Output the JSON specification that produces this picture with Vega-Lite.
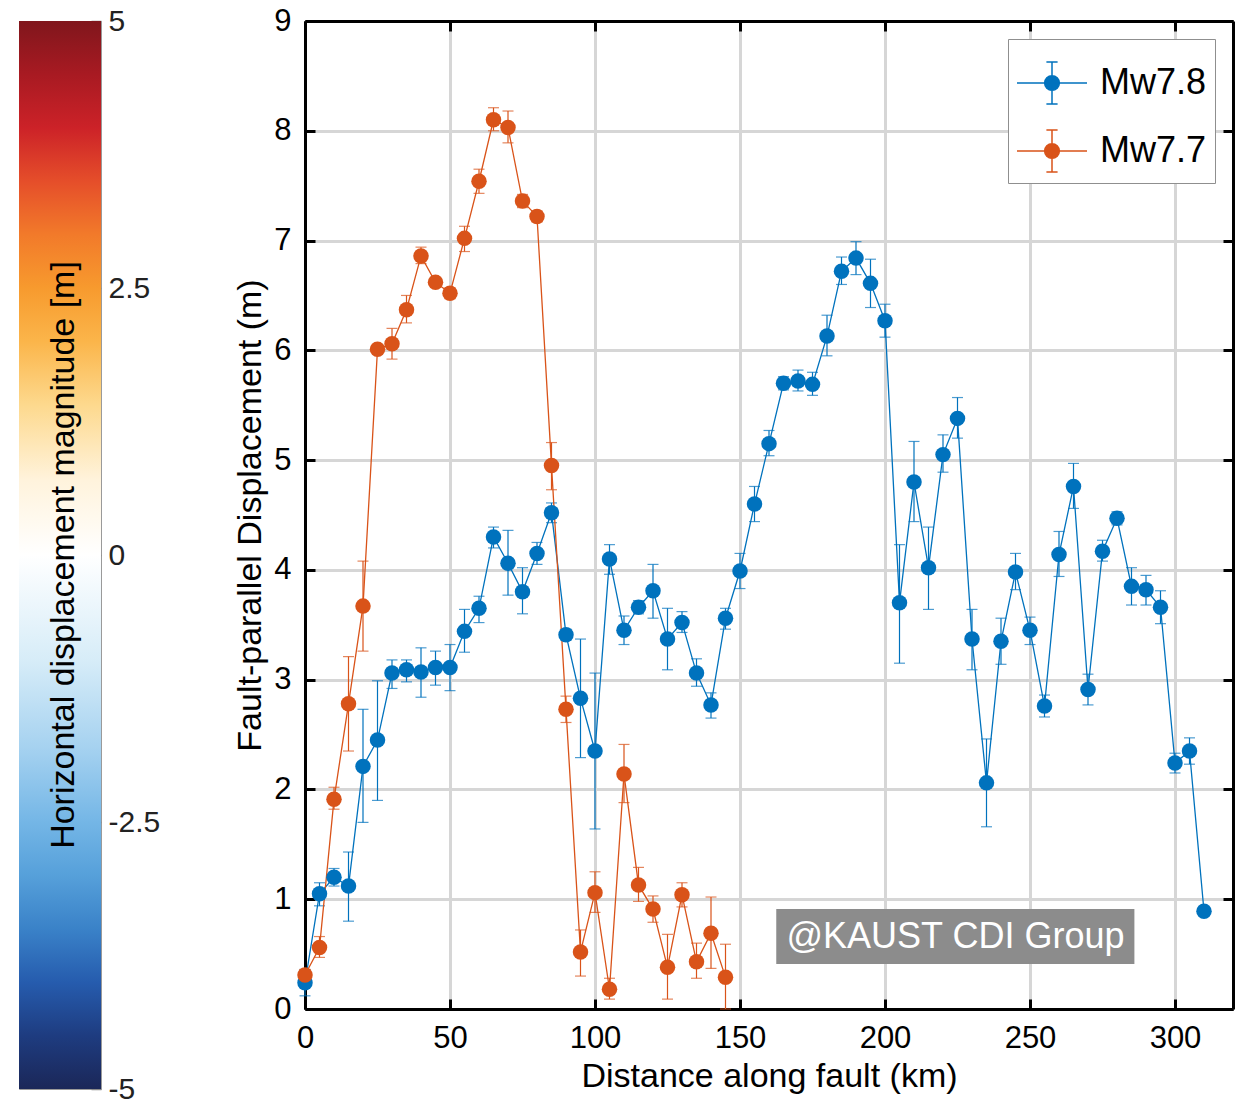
{
  "$schema": "https://vega.github.io/schema/vega-lite/v6.json",
  "padding": {"left": 18, "top": 5, "right": 0, "bottom": 0},
  "background": "white",
  "config": {"font": "Liberation Sans", "axis": {"labelColor": "black", "titleColor": "black", "titleFontWeight": "normal"}, "legend": {"symbolOpacity": 1}},
  "resolve": {"legend": {"color": "independent"}, "scale": {"color": "independent"}},
  "datasets": {
    "slip": [
      {"s": "Mw7.8", "x": 0, "y": 0.24, "lo": 0.12, "hi": 0.36},
      {"s": "Mw7.8", "x": 5, "y": 1.05, "lo": 0.94, "hi": 1.15},
      {"s": "Mw7.8", "x": 10, "y": 1.2, "lo": 1.12, "hi": 1.28},
      {"s": "Mw7.8", "x": 15, "y": 1.12, "lo": 0.8, "hi": 1.43},
      {"s": "Mw7.8", "x": 20, "y": 2.21, "lo": 1.7, "hi": 2.73},
      {"s": "Mw7.8", "x": 25, "y": 2.45, "lo": 1.9, "hi": 2.99},
      {"s": "Mw7.8", "x": 30, "y": 3.06, "lo": 2.92, "hi": 3.18},
      {"s": "Mw7.8", "x": 35, "y": 3.09, "lo": 2.98, "hi": 3.18},
      {"s": "Mw7.8", "x": 40, "y": 3.07, "lo": 2.84, "hi": 3.29},
      {"s": "Mw7.8", "x": 45, "y": 3.11, "lo": 2.95, "hi": 3.26},
      {"s": "Mw7.8", "x": 50, "y": 3.11, "lo": 2.9, "hi": 3.32},
      {"s": "Mw7.8", "x": 55, "y": 3.44, "lo": 3.25, "hi": 3.64},
      {"s": "Mw7.8", "x": 60, "y": 3.65, "lo": 3.52, "hi": 3.76},
      {"s": "Mw7.8", "x": 65, "y": 4.3, "lo": 4.2, "hi": 4.39},
      {"s": "Mw7.8", "x": 70, "y": 4.06, "lo": 3.77, "hi": 4.36},
      {"s": "Mw7.8", "x": 75, "y": 3.8, "lo": 3.6, "hi": 4.02},
      {"s": "Mw7.8", "x": 80, "y": 4.15, "lo": 4.05, "hi": 4.25},
      {"s": "Mw7.8", "x": 85, "y": 4.52, "lo": 4.43, "hi": 4.61},
      {"s": "Mw7.8", "x": 90, "y": 3.41, "lo": 3.36, "hi": 3.46},
      {"s": "Mw7.8", "x": 95, "y": 2.83, "lo": 2.29, "hi": 3.37},
      {"s": "Mw7.8", "x": 100, "y": 2.35, "lo": 1.64, "hi": 3.06},
      {"s": "Mw7.8", "x": 105, "y": 4.1, "lo": 3.96, "hi": 4.23},
      {"s": "Mw7.8", "x": 110, "y": 3.45, "lo": 3.32, "hi": 3.58},
      {"s": "Mw7.8", "x": 115, "y": 3.66, "lo": 3.6, "hi": 3.72},
      {"s": "Mw7.8", "x": 120, "y": 3.81, "lo": 3.56, "hi": 4.05},
      {"s": "Mw7.8", "x": 125, "y": 3.37, "lo": 3.09, "hi": 3.65},
      {"s": "Mw7.8", "x": 130, "y": 3.52, "lo": 3.43, "hi": 3.62},
      {"s": "Mw7.8", "x": 135, "y": 3.06, "lo": 2.94, "hi": 3.19},
      {"s": "Mw7.8", "x": 140, "y": 2.77, "lo": 2.65, "hi": 2.88},
      {"s": "Mw7.8", "x": 145, "y": 3.56, "lo": 3.46, "hi": 3.65},
      {"s": "Mw7.8", "x": 150, "y": 3.99, "lo": 3.83, "hi": 4.15},
      {"s": "Mw7.8", "x": 155, "y": 4.6, "lo": 4.44, "hi": 4.76},
      {"s": "Mw7.8", "x": 160, "y": 5.15, "lo": 5.04, "hi": 5.27},
      {"s": "Mw7.8", "x": 165, "y": 5.7, "lo": 5.64, "hi": 5.76},
      {"s": "Mw7.8", "x": 170, "y": 5.72, "lo": 5.63, "hi": 5.82},
      {"s": "Mw7.8", "x": 175, "y": 5.69, "lo": 5.59, "hi": 5.8},
      {"s": "Mw7.8", "x": 180, "y": 6.13, "lo": 5.95, "hi": 6.32},
      {"s": "Mw7.8", "x": 185, "y": 6.72, "lo": 6.6, "hi": 6.85},
      {"s": "Mw7.8", "x": 190, "y": 6.84, "lo": 6.69, "hi": 6.99},
      {"s": "Mw7.8", "x": 195, "y": 6.61, "lo": 6.39, "hi": 6.83},
      {"s": "Mw7.8", "x": 200, "y": 6.27, "lo": 6.12, "hi": 6.42},
      {"s": "Mw7.8", "x": 205, "y": 3.7, "lo": 3.15, "hi": 4.23},
      {"s": "Mw7.8", "x": 210, "y": 4.8, "lo": 4.44, "hi": 5.17},
      {"s": "Mw7.8", "x": 215, "y": 4.02, "lo": 3.64, "hi": 4.39},
      {"s": "Mw7.8", "x": 220, "y": 5.05, "lo": 4.89, "hi": 5.23},
      {"s": "Mw7.8", "x": 225, "y": 5.38, "lo": 5.2, "hi": 5.57},
      {"s": "Mw7.8", "x": 230, "y": 3.37, "lo": 3.09, "hi": 3.64},
      {"s": "Mw7.8", "x": 235, "y": 2.06, "lo": 1.66, "hi": 2.46},
      {"s": "Mw7.8", "x": 240, "y": 3.35, "lo": 3.14, "hi": 3.56},
      {"s": "Mw7.8", "x": 245, "y": 3.98, "lo": 3.82, "hi": 4.15},
      {"s": "Mw7.8", "x": 250, "y": 3.45, "lo": 3.32, "hi": 3.57},
      {"s": "Mw7.8", "x": 255, "y": 2.76, "lo": 2.66, "hi": 2.86},
      {"s": "Mw7.8", "x": 260, "y": 4.14, "lo": 3.94, "hi": 4.35},
      {"s": "Mw7.8", "x": 265, "y": 4.76, "lo": 4.56, "hi": 4.97},
      {"s": "Mw7.8", "x": 270, "y": 2.91, "lo": 2.77, "hi": 3.05},
      {"s": "Mw7.8", "x": 275, "y": 4.17, "lo": 4.08, "hi": 4.27},
      {"s": "Mw7.8", "x": 280, "y": 4.47, "lo": 4.41, "hi": 4.53},
      {"s": "Mw7.8", "x": 285, "y": 3.85, "lo": 3.68, "hi": 4.02},
      {"s": "Mw7.8", "x": 290, "y": 3.82, "lo": 3.68, "hi": 3.95},
      {"s": "Mw7.8", "x": 295, "y": 3.66, "lo": 3.51, "hi": 3.81},
      {"s": "Mw7.8", "x": 300, "y": 2.24, "lo": 2.15, "hi": 2.33},
      {"s": "Mw7.8", "x": 305, "y": 2.35, "lo": 2.23, "hi": 2.47},
      {"s": "Mw7.8", "x": 310, "y": 0.89, "lo": 0.86, "hi": 0.92},
      {"s": "Mw7.7", "x": 0, "y": 0.31, "lo": 0.26, "hi": 0.36},
      {"s": "Mw7.7", "x": 5, "y": 0.56, "lo": 0.47, "hi": 0.66},
      {"s": "Mw7.7", "x": 10, "y": 1.91, "lo": 1.82, "hi": 2.02},
      {"s": "Mw7.7", "x": 15, "y": 2.78, "lo": 2.35, "hi": 3.21},
      {"s": "Mw7.7", "x": 20, "y": 3.67, "lo": 3.26, "hi": 4.08},
      {"s": "Mw7.7", "x": 25, "y": 6.01, "lo": 5.97, "hi": 6.05},
      {"s": "Mw7.7", "x": 30, "y": 6.06, "lo": 5.92, "hi": 6.2},
      {"s": "Mw7.7", "x": 35, "y": 6.37, "lo": 6.25, "hi": 6.5},
      {"s": "Mw7.7", "x": 40, "y": 6.86, "lo": 6.79, "hi": 6.94},
      {"s": "Mw7.7", "x": 45, "y": 6.62, "lo": 6.58, "hi": 6.66},
      {"s": "Mw7.7", "x": 50, "y": 6.52, "lo": 6.47, "hi": 6.57},
      {"s": "Mw7.7", "x": 55, "y": 7.02, "lo": 6.9, "hi": 7.13},
      {"s": "Mw7.7", "x": 60, "y": 7.54, "lo": 7.43, "hi": 7.65},
      {"s": "Mw7.7", "x": 65, "y": 8.1, "lo": 8.0, "hi": 8.21},
      {"s": "Mw7.7", "x": 70, "y": 8.03, "lo": 7.89, "hi": 8.18},
      {"s": "Mw7.7", "x": 75, "y": 7.36, "lo": 7.3, "hi": 7.42},
      {"s": "Mw7.7", "x": 80, "y": 7.22, "lo": 7.17, "hi": 7.27},
      {"s": "Mw7.7", "x": 85, "y": 4.95, "lo": 4.73, "hi": 5.16},
      {"s": "Mw7.7", "x": 90, "y": 2.73, "lo": 2.61, "hi": 2.85},
      {"s": "Mw7.7", "x": 95, "y": 0.52, "lo": 0.3, "hi": 0.72},
      {"s": "Mw7.7", "x": 100, "y": 1.06, "lo": 0.88, "hi": 1.25},
      {"s": "Mw7.7", "x": 105, "y": 0.18, "lo": 0.09, "hi": 0.28},
      {"s": "Mw7.7", "x": 110, "y": 2.14, "lo": 1.88, "hi": 2.41},
      {"s": "Mw7.7", "x": 115, "y": 1.13, "lo": 0.98, "hi": 1.29},
      {"s": "Mw7.7", "x": 120, "y": 0.91, "lo": 0.79, "hi": 1.03},
      {"s": "Mw7.7", "x": 125, "y": 0.38, "lo": 0.09, "hi": 0.68},
      {"s": "Mw7.7", "x": 130, "y": 1.04, "lo": 0.93, "hi": 1.15},
      {"s": "Mw7.7", "x": 135, "y": 0.43, "lo": 0.28, "hi": 0.6},
      {"s": "Mw7.7", "x": 140, "y": 0.69, "lo": 0.37, "hi": 1.02},
      {"s": "Mw7.7", "x": 145, "y": 0.29, "lo": 0.0, "hi": 0.59}
    ]
  },
  "bounds": "flush",
  "spacing": 204,
  "hconcat": [
    {
      "width": 82,
      "height": 1068,
      "view": {"stroke": "#9a9a9a", "strokeWidth": 1},
      "data": {"values": [{}]},
      "layer": [
        {
          "mark": {
            "type": "rect",
            "color": {
              "gradient": "linear", "x1": 0, "y1": 1, "x2": 0, "y2": 0,
              "stops": [
                {"offset": 0, "color": "#1b2758"},
                {"offset": 0.05, "color": "#1e3c80"},
                {"offset": 0.1, "color": "#265cae"},
                {"offset": 0.15, "color": "#3a82c8"},
                {"offset": 0.2, "color": "#56a0da"},
                {"offset": 0.25, "color": "#74b6e6"},
                {"offset": 0.32, "color": "#a6d2f0"},
                {"offset": 0.4, "color": "#d6ecf8"},
                {"offset": 0.5, "color": "#ffffff"},
                {"offset": 0.57, "color": "#fff3dc"},
                {"offset": 0.64, "color": "#fdd98e"},
                {"offset": 0.7, "color": "#fbb54a"},
                {"offset": 0.75, "color": "#f79a2e"},
                {"offset": 0.8, "color": "#f27a2a"},
                {"offset": 0.85, "color": "#e54e2a"},
                {"offset": 0.9, "color": "#cc2228"},
                {"offset": 0.95, "color": "#a81a22"},
                {"offset": 1, "color": "#80161c"}
              ]
            }
          },
          "encoding": {
            "x": {"datum": 0, "type": "quantitative", "scale": {"domain": [0, 1], "nice": false}, "axis": null},
            "x2": {"datum": 1},
            "y": {
              "datum": -5, "type": "quantitative",
              "scale": {"domain": [-5, 5], "nice": false},
              "axis": {
                "orient": "right", "values": [-5, -2.5, 0, 2.5, 5], "labelExpr": "'' + datum.value",
                "labelFontSize": 30, "labelColor": "#222222", "tickSize": -10, "tickColor": "#8a8a8a", "tickWidth": 1.5,
                "domain": false, "grid": false, "labelPadding": 17, "title": null
              }
            },
            "y2": {"datum": 5}
          }
        },
        {
          "mark": {"type": "text", "angle": 270, "fontSize": 34, "color": "black", "align": "center", "baseline": "middle"},
          "encoding": {
            "x": {"datum": 0.55, "type": "quantitative"},
            "y": {"datum": 0, "type": "quantitative"},
            "text": {"value": "Horizontal displacement magnitude [m]"}
          }
        }
      ]
    },
    {
      "width": 928,
      "height": 988,
      "view": {"stroke": null},
      "data": {"name": "slip"},
      "resolve": {"axis": {"x": "independent", "y": "independent"}},
      "layer": [
        {
          "mark": {"type": "rule", "strokeWidth": 1.2},
          "encoding": {
            "x": {
              "field": "x", "type": "quantitative", "scale": {"domain": [0, 320], "nice": false},
              "axis": {
                "orient": "bottom", "values": [0, 50, 100, 150, 200, 250, 300], "title": "Distance along fault (km)",
                "titleFontSize": 34, "labelFontSize": 31, "grid": true, "gridColor": "#d6d6d6", "gridWidth": 3,
                "domain": true, "domainColor": "black", "domainWidth": 3, "tickColor": "black", "tickWidth": 3,
                "tickSize": -10, "labelPadding": 24, "titlePadding": 6, "labelFlush": false
              }
            },
            "y": {
              "field": "lo", "type": "quantitative", "scale": {"domain": [0, 9], "nice": false},
              "axis": {
                "orient": "left", "values": [0, 1, 2, 3, 4, 5, 6, 7, 8, 9], "title": "Fault-parallel Displacement (m)",
                "titleFontSize": 34, "labelFontSize": 31, "grid": true, "gridColor": "#d6d6d6", "gridWidth": 3,
                "domain": true, "domainColor": "black", "domainWidth": 3, "tickColor": "black", "tickWidth": 3,
                "tickSize": -10, "labelPadding": 24, "titlePadding": 6
              }
            },
            "y2": {"field": "hi"},
            "color": {"field": "s", "type": "nominal", "scale": {"domain": ["Mw7.8", "Mw7.7"], "range": ["#0072BD", "#D95319"]}}
          }
        },
        {
          "mark": {"type": "tick", "orient": "horizontal", "size": 11, "thickness": 1.2},
          "encoding": {
            "x": {"field": "x", "type": "quantitative", "axis": null},
            "y": {"field": "lo", "type": "quantitative", "axis": null},
            "color": {"field": "s", "type": "nominal"}
          }
        },
        {
          "mark": {"type": "tick", "orient": "horizontal", "size": 11, "thickness": 1.2},
          "encoding": {
            "x": {"field": "x", "type": "quantitative", "axis": null},
            "y": {"field": "hi", "type": "quantitative", "axis": null},
            "color": {"field": "s", "type": "nominal"}
          }
        },
        {
          "mark": {"type": "line", "strokeWidth": 1.3},
          "encoding": {
            "x": {
              "field": "x", "type": "quantitative",
              "axis": {"orient": "top", "values": [0, 50, 100, 150, 200, 250, 300], "labels": false, "title": null, "grid": false,
                       "domain": true, "domainColor": "black", "domainWidth": 3, "tickColor": "black", "tickWidth": 3, "tickSize": -10}
            },
            "y": {
              "field": "y", "type": "quantitative",
              "axis": {"orient": "right", "values": [0, 1, 2, 3, 4, 5, 6, 7, 8, 9], "labels": false, "title": null, "grid": false,
                       "domain": true, "domainColor": "black", "domainWidth": 3, "tickColor": "black", "tickWidth": 3, "tickSize": -10}
            },
            "color": {"field": "s", "type": "nominal"}
          }
        },
        {
          "mark": {"type": "point", "filled": true, "size": 240, "opacity": 1, "shape": "circle"},
          "encoding": {
            "x": {"field": "x", "type": "quantitative", "axis": null},
            "y": {"field": "y", "type": "quantitative", "axis": null},
            "color": {
              "field": "s", "type": "nominal",
              "legend": {
                "orient": "top-right", "offset": 18, "title": null, "labelFontSize": 36, "labelColor": "black",
                "symbolType": "M-1,0H1M0,-0.6V0.6M-0.16,-0.6H0.16M-0.16,0.6H0.16M0.21,0A0.21,0.21 0 1,1 -0.21,0A0.21,0.21 0 1,1 0.21,0Z",
                "symbolSize": 4900, "symbolStrokeWidth": 1.5, "symbolOpacity": 1, "fillColor": "white", "strokeColor": "#8f8f8f",
                "padding": 8, "rowPadding": 8, "labelOffset": 12, "cornerRadius": 0,
                "encode": {
                  "symbols": {
                    "update": {
                      "fill": {"signal": "datum.value === 'Mw7.8' ? '#0072BD' : '#D95319'"},
                      "stroke": {"signal": "datum.value === 'Mw7.8' ? '#0072BD' : '#D95319'"},
                      "strokeWidth": {"value": 1.5},
                      "opacity": {"value": 1},
                      "fillOpacity": {"value": 1},
                      "strokeOpacity": {"value": 1}
                    }
                  }
                }
              }
            }
          }
        },
        {
          "data": {"values": [{}]},
          "mark": {"type": "rect", "color": "#8c8c8c"},
          "encoding": {
            "x": {"datum": 162.5, "type": "quantitative", "axis": null},
            "x2": {"datum": 286},
            "y": {"datum": 0.91, "type": "quantitative", "axis": null},
            "y2": {"datum": 0.41}
          }
        },
        {
          "data": {"values": [{}]},
          "mark": {"type": "text", "color": "white", "fontSize": 36, "align": "center", "baseline": "middle"},
          "encoding": {
            "x": {"datum": 224.3, "type": "quantitative", "axis": null},
            "y": {"datum": 0.66, "type": "quantitative", "axis": null},
            "text": {"value": "@KAUST CDI Group"}
          }
        }
      ]
    }
  ]
}
